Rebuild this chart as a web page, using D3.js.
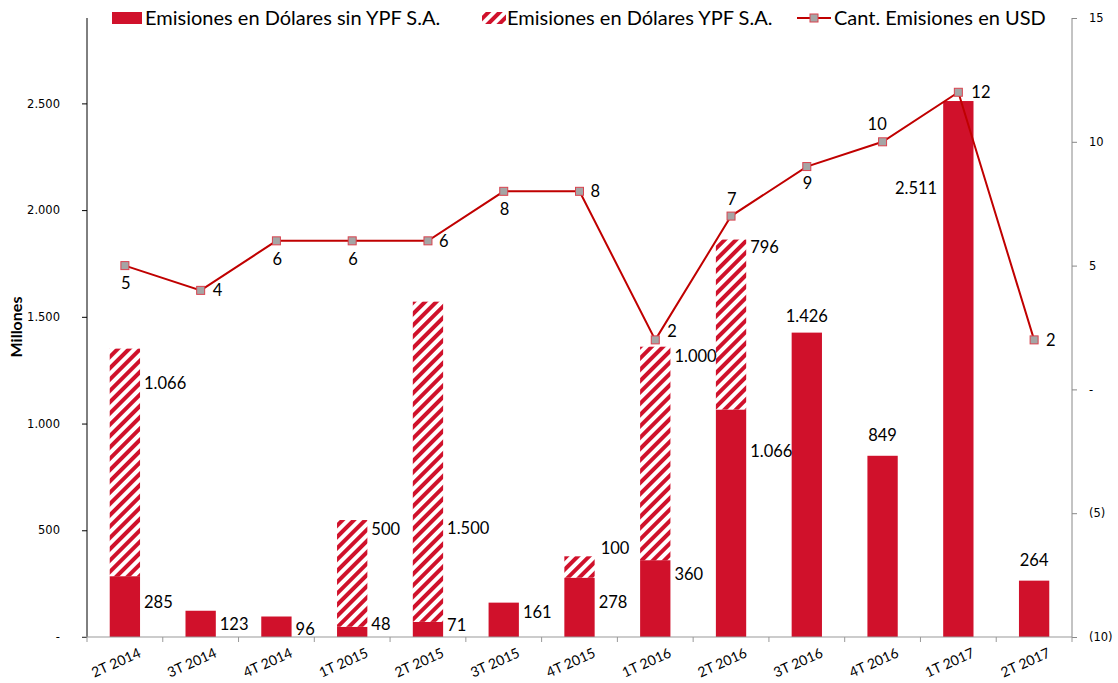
<!DOCTYPE html>
<html>
<head>
<meta charset="utf-8">
<script src="https://cdn.jsdelivr.net/npm/d3@7"></script>
<style>
  body { margin: 0; background: #fff; }
  svg { display: block; }
</style>
</head>
<body>
<svg width="1118" height="683"></svg>
<script>
const categories = ["2T 2014", "3T 2014", "4T 2014", "1T 2015", "2T 2015", "3T 2015", "4T 2015",
  "1T 2016", "2T 2016", "3T 2016", "4T 2016", "1T 2017", "2T 2017"];
const sinYPF = [285, 123, 96, 48, 71, 161, 278, 360, 1066, 1426, 849, 2511, 264];
const conYPF = [1066, 0, 0, 500, 1500, 0, 100, 1000, 796, 0, 0, 0, 0];
const cantidad = [5, 4, 6, 6, 6, 8, 8, 2, 7, 9, 10, 12, 2];
const leftTicks = [0, 500, 1000, 1500, 2000, 2500];
const rightTicks = [-10, -5, 0, 5, 10, 15];

// label nudges [anchor, dx, dy] picked by eye
const sinLabelPos = [["r", 4, 26], ["r", 4, 13], ["r", 4, 13], ["r", 4, -3], ["r", 4, 3], ["r", 4, 10],
  ["r", 4, 25], ["r", 4, 14], ["r", 4, 42], ["c", 0, -16], ["c", 0, -21], ["l", -6, 87], ["c", 0, -20]];
const ypfLabelPos = [[4, 35], null, null, [4, 9], [4, 227], null, [6, -8], [4, 10], [4, 8]];
const cantLabelPos = [[-4, 18], [12, 0], [-4, 18], [-4, 18], [11, 0], [-4, 18], [11, 0],
  [12, -9], [-4, -17], [-4, 17], [-15, -18], [13, 0], [12, 0]];

const red = "#D0112B";
const lineRed = "#C00000";
const svg = d3.select("svg");
const mLeft = 87, mRight = 1072, mTop = 18, mBottom = 637;

const x = d3.scaleBand().domain(categories).range([mLeft, mRight]).paddingInner(0.6).paddingOuter(0.3);
const y = d3.scaleLinear().domain([0, 2900]).range([mBottom, mTop]);
const y2 = d3.scaleLinear().domain([-10, 15]).range([mBottom, mTop]);

// hatch pattern
const defs = svg.append("defs");
const pat = defs.append("pattern")
  .attr("id", "hatch")
  .attr("patternUnits", "userSpaceOnUse")
  .attr("width", 8).attr("height", 8)
  .attr("patternTransform", "rotate(45)");
pat.append("rect").attr("width", 8).attr("height", 8).attr("fill", "#fff");
pat.append("rect").attr("width", 4).attr("height", 8).attr("fill", red);

const fmt = v => v === 0 ? "-" : d3.format(",")(v).replace(/,/g, ".");
const fmt2 = v => v === 0 ? "-" : v < 0 ? "(" + Math.abs(v) + ")" : String(v);

// bars
const g = svg.append("g");
g.selectAll("rect.sin")
  .data(sinYPF)
  .enter()
  .append("rect")
  .attr("class", "sin")
  .attr("x", (d, i) => x(categories[i]))
  .attr("y", d => y(d))
  .attr("width", x.bandwidth())
  .attr("height", d => mBottom - y(d))
  .attr("fill", red);

conYPF.forEach((d, i) => {
  if (d <= 0) return;
  g.append("rect")
    .attr("x", x(categories[i]))
    .attr("y", y(sinYPF[i] + d))
    .attr("width", x.bandwidth())
    .attr("height", y(sinYPF[i]) - y(sinYPF[i] + d))
    .attr("fill", "url(#hatch)");
});

// axes
const axL = svg.append("g").attr("transform", `translate(${mLeft},0)`)
  .call(d3.axisLeft(y).tickValues(leftTicks).tickFormat(fmt).tickSize(5).tickPadding(22));
axL.select(".domain").attr("stroke", "#000").attr("d", `M0,${mTop}V${mBottom}`);
axL.selectAll(".tick line").attr("stroke", "#000");
axL.selectAll("text").attr("font-family", "Verdana, 'DejaVu Sans'").attr("font-size", 11.5).attr("fill", "#000");

const axR = svg.append("g").attr("transform", `translate(${mRight},0)`)
  .call(d3.axisRight(y2).tickValues(rightTicks).tickFormat(fmt2).tickSize(5).tickPadding(12));
axR.select(".domain").attr("stroke", "#888").attr("d", `M0,${mTop}V${mBottom}`);
axR.selectAll(".tick line").attr("stroke", "#888");
axR.selectAll("text").attr("font-family", "Verdana, 'DejaVu Sans'").attr("font-size", 11.5).attr("fill", "#000");

const axB = svg.append("g").attr("transform", `translate(0,${mBottom})`)
  .call(d3.axisBottom(x).tickSize(0).tickPadding(0));
axB.select(".domain").attr("stroke", "#999").attr("d", `M${mLeft - 5},0H${mRight}`);
const step = x.step();
axB.selectAll(".bnd")
  .data(d3.range(categories.length + 1))
  .enter()
  .append("line")
  .attr("x1", i => mLeft + i * step).attr("x2", i => mLeft + i * step)
  .attr("y1", 0).attr("y2", 5)
  .attr("stroke", "#999");
axB.selectAll(".tick text")
  .attr("font-family", "Lato, 'Open Sans', sans-serif")
  .attr("font-size", 14)
  .attr("fill", "#000")
  .attr("text-anchor", "end")
  .attr("y", 0)
  .attr("dy", "0.35em")
  .attr("transform", "translate(15,15) rotate(-24)");

svg.append("text")
  .attr("transform", "translate(22,327) rotate(-90)")
  .attr("text-anchor", "middle")
  .attr("font-family", "Lato, 'Open Sans', sans-serif")
  .attr("font-weight", "bold")
  .attr("font-size", 16)
  .text("Millones");

// line
const cx = i => x(categories[i]) + x.bandwidth() / 2;
svg.append("path")
  .datum(cantidad)
  .attr("fill", "none")
  .attr("stroke", lineRed)
  .attr("stroke-width", 2)
  .attr("d", d3.line().x((d, i) => cx(i)).y(d => y2(d)));

svg.selectAll("rect.mk")
  .data(cantidad)
  .enter()
  .append("rect")
  .attr("class", "mk")
  .attr("x", (d, i) => cx(i) - 4)
  .attr("y", d => y2(d) - 4)
  .attr("width", 8).attr("height", 8)
  .attr("fill", "#A5A5A5")
  .attr("stroke", "#D9434F")
  .attr("stroke-width", 1);

// labels
const lab = svg.append("g")
  .attr("font-family", "Lato, 'Open Sans', sans-serif")
  .attr("font-size", 16.5)
  .attr("fill", "#000");

sinYPF.forEach((d, i) => {
  const [a, dx, dy] = sinLabelPos[i];
  const bx = x(categories[i]);
  const t = lab.append("text").attr("y", y(d) + dy).attr("dy", "0.35em").text(fmt(d));
  if (a === "c") t.attr("x", bx + x.bandwidth() / 2 + dx).attr("text-anchor", "middle");
  else if (a === "l") t.attr("x", bx + dx).attr("text-anchor", "end");
  else t.attr("x", bx + x.bandwidth() + dx);
});

conYPF.forEach((d, i) => {
  if (d <= 0) return;
  const p = ypfLabelPos[i];
  lab.append("text")
    .attr("x", x(categories[i]) + x.bandwidth() + p[0])
    .attr("y", y(sinYPF[i] + d) + p[1])
    .attr("dy", "0.35em")
    .text(fmt(d));
});

cantidad.forEach((d, i) => {
  const p = cantLabelPos[i];
  lab.append("text")
    .attr("x", cx(i) + p[0])
    .attr("y", y2(d) + p[1])
    .attr("dy", "0.35em")
    .text(d);
});

// legend
const leg = svg.append("g")
  .attr("font-family", "Lato, 'Open Sans', sans-serif")
  .attr("font-size", 20)
  .attr("fill", "#000");
leg.append("rect").attr("x", 112).attr("y", 12).attr("width", 30).attr("height", 12).attr("fill", red);
leg.append("text").attr("x", 145).attr("y", 18).attr("dy", "0.35em").text("Emisiones en Dólares sin YPF S.A.");
leg.append("rect").attr("x", 482).attr("y", 12).attr("width", 24).attr("height", 12).attr("fill", "url(#hatch)");
leg.append("text").attr("x", 507).attr("y", 18).attr("dy", "0.35em").text("Emisiones en Dólares YPF S.A.");
leg.append("line").attr("x1", 797).attr("x2", 831).attr("y1", 18).attr("y2", 18)
  .attr("stroke", lineRed).attr("stroke-width", 2);
leg.append("rect").attr("x", 810).attr("y", 14).attr("width", 8).attr("height", 8)
  .attr("fill", "#A5A5A5").attr("stroke", "#D9434F");
leg.append("text").attr("x", 834).attr("y", 18).attr("dy", "0.35em").text("Cant. Emisiones en USD");
</script>
</body>
</html>
